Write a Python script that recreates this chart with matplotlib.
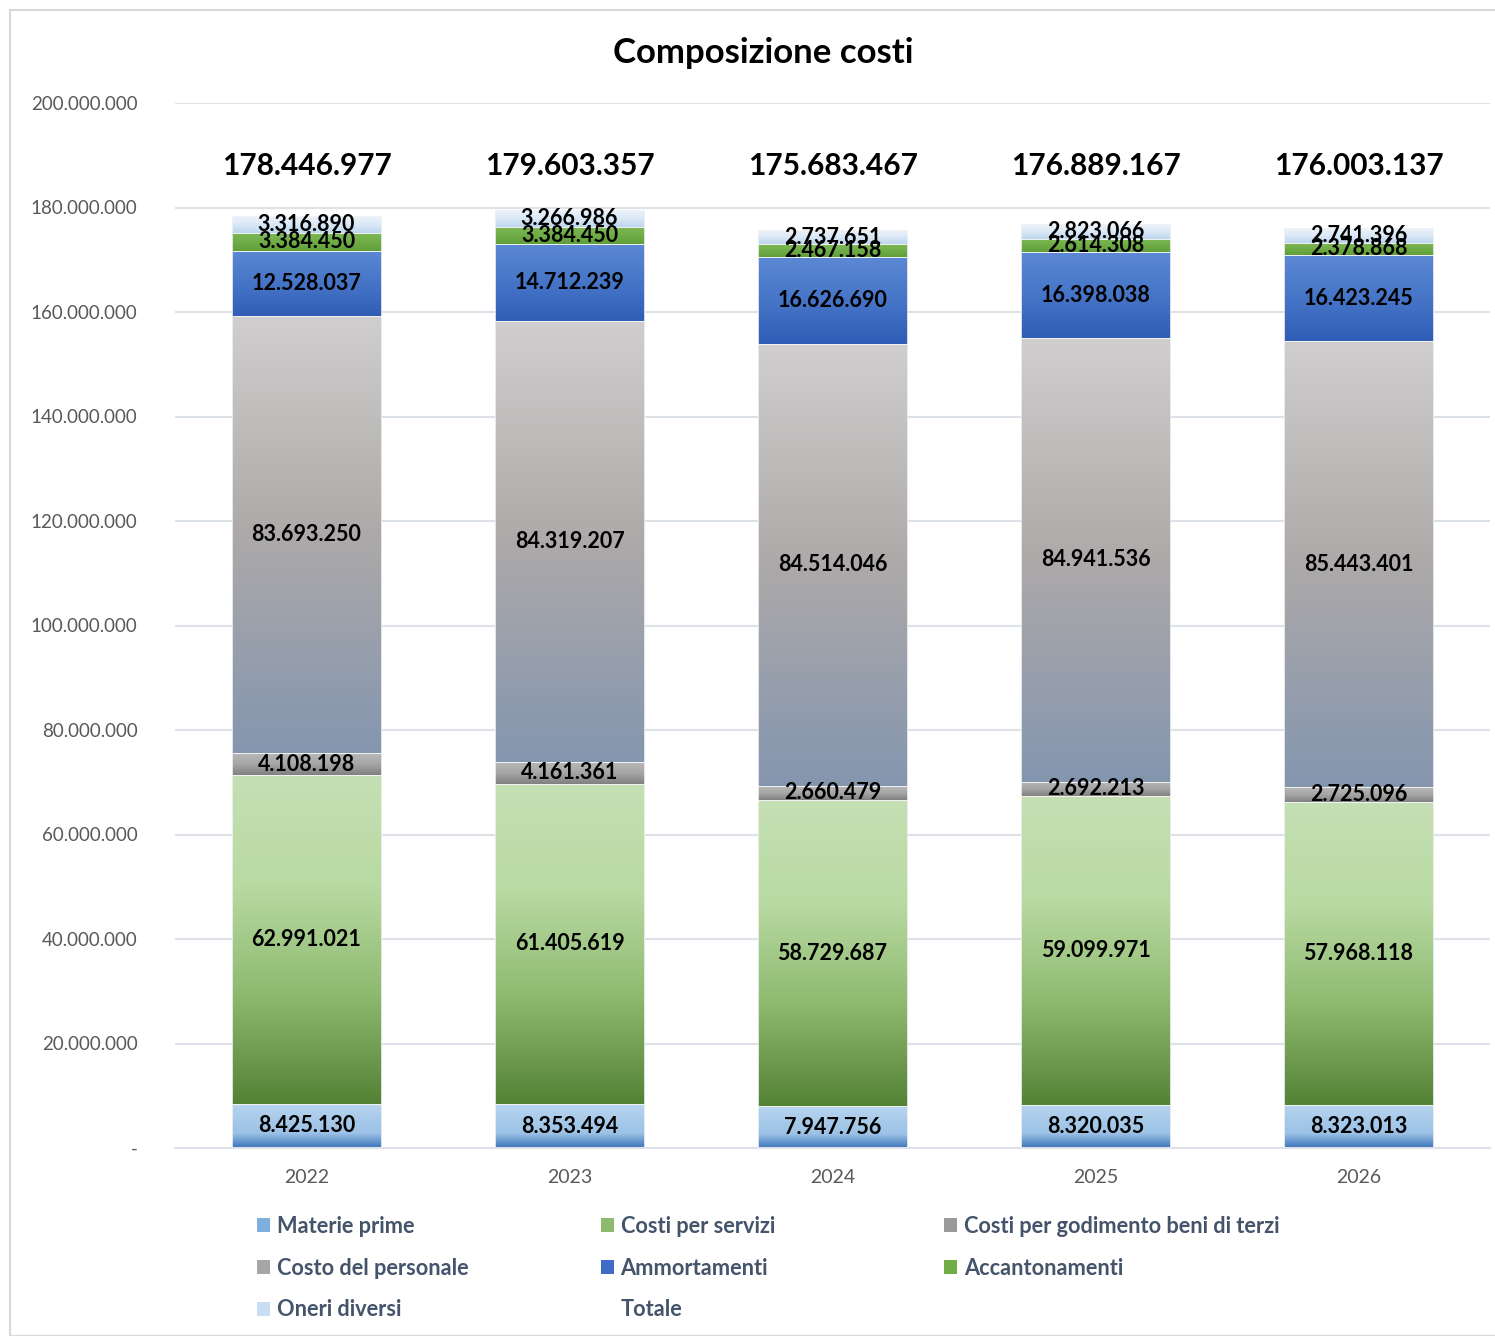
import numpy as np
import matplotlib
matplotlib.use('Agg')
import matplotlib.pyplot as plt
from matplotlib.colors import LinearSegmentedColormap
from matplotlib.patches import Patch, Rectangle
from matplotlib.ticker import FuncFormatter

plt.rcParams['font.family'] = ['Lato', 'DejaVu Sans']

years = ['2022', '2023', '2024', '2025', '2026']
series_names = ['Materie prime', 'Costi per servizi', 'Costi per godimento beni di terzi',
                'Costo del personale', 'Ammortamenti', 'Accantonamenti', 'Oneri diversi']
materie_prime = [8425130, 8353494, 7947756, 8320035, 8323013]
costi_servizi = [62991021, 61405619, 58729687, 59099971, 57968118]
godimento_beni = [4108198, 4161361, 2660479, 2692213, 2725096]
costo_personale = [83693250, 84319207, 84514046, 84941536, 85443401]
ammortamenti = [12528037, 14712239, 16626690, 16398038, 16423245]
accantonamenti = [3384450, 3384450, 2467158, 2614308, 2378868]
oneri_diversi = [3316890, 3266986, 2737651, 2823066, 2741396]
totale = [178446977, 179603357, 175683467, 176889167, 176003137]

# gradient stops, top -> bottom
gradients = [
    ['#B9D5F0', '#A9CBEA', '#9CC2E6', '#3A74BA'],
    ['#C5E0B4', '#B9DAA3', '#8EBA70', '#548235'],
    ['#B8B8B8', '#A6A6A6', '#808080'],
    ['#D0CECE', '#ADA9A9', '#8496AF'],
    ['#5C88D3', '#4675C8', '#2F5DB5'],
    ['#7DB855', '#70AD47', '#609E3A'],
    ['#EDF4FB', '#DCE9F6', '#BCD6EE'],
]
legend_colors = ['#7FAEE0', '#8EBA70', '#9A9A9A', '#A6A6A6', '#3F6CC4', '#70AD47', '#C9DEF2']


def fmt(v):
    return '{:,}'.format(int(v)).replace(',', '.')


fig = plt.figure(figsize=(14.95, 13.36), dpi=100)
fig.patches.append(Rectangle((10 / 1495, 0), 1.0, 1 - 10 / 1336, transform=fig.transFigure,
                             fill=False, edgecolor='#D9D9D9', linewidth=1.5))
ax = fig.add_axes([175 / 1495, 1 - 1148 / 1336, 1315 / 1495, 1045 / 1336])

data = [materie_prime, costi_servizi, godimento_beni, costo_personale,
        ammortamenti, accantonamenti, oneri_diversi]
x = np.arange(len(years))
bottom = np.zeros(len(years))
for vals, stops in zip(data, gradients):
    bars = ax.bar(x, vals, width=0.57, bottom=bottom, facecolor='none',
                  edgecolor='#F2F2F2', linewidth=0.6, zorder=3)
    cmap = LinearSegmentedColormap.from_list('g', stops)
    img = np.linspace(0, 1, 256).reshape(-1, 1)
    for b, v in zip(bars, vals):
        x0, y0, w, h = b.get_x(), b.get_y(), b.get_width(), b.get_height()
        im = ax.imshow(img, cmap=cmap, extent=(x0, x0 + w, y0, y0 + h), origin='upper',
                       aspect='auto', zorder=2, interpolation='bilinear')
        im.set_clip_path(b)
        ax.text(x0 + w / 2, y0 + h / 2, fmt(v), ha='center', va='center',
                fontsize=15.5, fontweight='bold', color='black', zorder=5)
    bottom += np.array(vals)

# total labels sit in a row above the stacks
for xi, t in zip(x, totale):
    ax.text(xi, 188000000, fmt(t), ha='center', va='center',
            fontsize=21.5, fontweight='bold', color='black')

ax.set_xlim(-0.5, len(years) - 0.5)
ax.set_ylim(0, 200000000)
ax.set_yticks(np.arange(0, 200000001, 20000000))
ax.yaxis.set_major_formatter(FuncFormatter(lambda v, p: '-' if v == 0 else fmt(v)))
ax.set_xticks(x)
ax.set_xticklabels(years)
ax.grid(axis='y', color='#DDE2E8', linewidth=1.5, zorder=0)
ax.set_axisbelow(True)
for s in ['top', 'right', 'left']:
    ax.spines[s].set_visible(False)
ax.spines['bottom'].set_color('#DDE2E8')
ax.spines['bottom'].set_linewidth(1.5)
ax.tick_params(axis='y', length=0, pad=27, labelsize=13.5, labelcolor='#595959')
ax.tick_params(axis='x', length=0, pad=15, labelsize=14, labelcolor='#595959')

fig.suptitle('Composizione costi', x=763 / 1495, y=1 - 53 / 1336, va='center',
             fontsize=25, fontweight='bold')

handles = [Patch(facecolor=c, edgecolor='none') for c in legend_colors]
handles.append(Patch(facecolor='none', edgecolor='none'))
names = series_names + ['Totale']
columns = [[0, 3, 6], [1, 4, 7], [2, 5]]
col_x = [257, 601, 944]
for cx, idx in zip(col_x, columns):
    fig.legend([handles[i] for i in idx], [names[i] for i in idx],
               loc='upper left', bbox_to_anchor=(cx / 1495, 1 - 1216 / 1336),
               frameon=False, handlelength=0.6, handleheight=0.6, handletextpad=0.3,
               labelspacing=0.95, prop={'size': 15.7, 'weight': 'bold'}, labelcolor='#44546A',
               borderaxespad=0, borderpad=0)

fig.savefig('out.png', dpi=100)
